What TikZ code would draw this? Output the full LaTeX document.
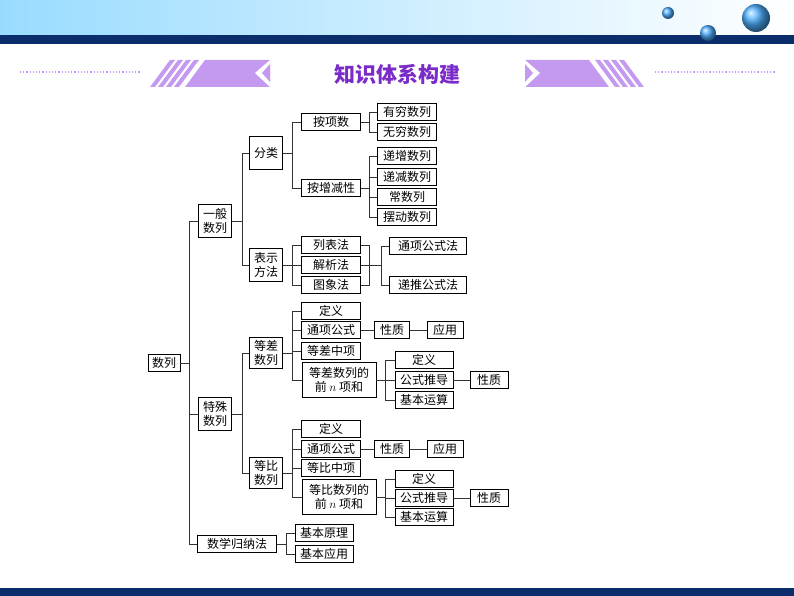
\documentclass[tikz,border=0pt]{standalone}
\usepackage{fontspec}
\newfontfamily\cjk{Noto Sans CJK SC}
\usetikzlibrary{calc}
\definecolor{navy}{HTML}{0B2D6B}
\definecolor{lpur}{HTML}{C49AF0}
\definecolor{tpur}{HTML}{7B2CC8}
\tikzset{
 b/.style={draw,line width=0.7pt,minimum height=17pt,inner sep=1pt,align=center,font=\cjk\fontsize{12}{13.5}\selectfont},
 c/.style={line width=0.7pt,draw=black!80}
}
\begin{document}
\begin{tikzpicture}[x=1pt,y=-1pt]
\useasboundingbox (0,0) rectangle (794,596);
% header
\shade[left color=blue!35!cyan!40,right color=white] (0,0) rectangle (794,35);
\fill[navy] (0,35) rectangle (794,44);
\shade[ball color=blue!45!cyan!70] (668,13) circle (6);
\shade[ball color=blue!45!cyan!70] (708,33) circle (8);
\shade[ball color=blue!45!cyan!70] (756,18) circle (14);
\fill[navy] (0,588) rectangle (794,596);
% title decorations
\draw[lpur,line width=1.2pt,dotted] (20,72) -- (140,72);
\draw[lpur,line width=1.2pt,dotted] (655,72) -- (775,72);
\foreach \i in {0,8,16,24}{\fill[lpur] (150+\i,87) -- (155+\i,87) -- (175+\i,60) -- (170+\i,60) -- cycle;}
\fill[lpur] (185,87) -- (205,60) -- (270,60) -- (270,87) -- cycle;
\fill[white] (270,60) -- (255,73) -- (270,87) -- cycle;
\fill[lpur] (262,73) -- (270,64) -- (270,82) -- cycle;
\foreach \i in {0,8,16,24}{\fill[lpur] (644-\i,87) -- (639-\i,87) -- (619-\i,60) -- (624-\i,60) -- cycle;}
\fill[lpur] (609,87) -- (589,60) -- (525,60) -- (525,87) -- cycle;
\fill[white] (525,60) -- (540,73) -- (525,87) -- cycle;
\fill[lpur] (533,73) -- (525,64) -- (525,82) -- cycle;
\node[font=\cjk\bfseries\fontsize{21}{22}\selectfont,text=tpur] (title) at (397,74) {知识体系构建};
% nodes
\node[b,minimum width=32] (sl) at (164,363) {数列};
\node[b,minimum width=33,minimum height=33] (yb) at (215,221) {一般\\数列};
\node[b,minimum width=33,minimum height=33] (fl) at (266,153) {分类};
\node[b,minimum width=33,minimum height=33] (bs) at (266,265) {表示\\方法};
\node[b,minimum width=59] (axs) at (331,122) {按项数};
\node[b,minimum width=59] (azj) at (331,188) {按增减性};
\node[b,minimum width=59] (yq) at (407,112) {有穷数列};
\node[b,minimum width=59] (wq) at (407,132) {无穷数列};
\node[b,minimum width=59] (dz) at (407,156) {递增数列};
\node[b,minimum width=59] (dj) at (407,177) {递减数列};
\node[b,minimum width=59] (cs) at (407,197) {常数列};
\node[b,minimum width=59] (bd) at (407,217) {摆动数列};
\node[b,minimum width=59] (lb) at (331,245) {列表法};
\node[b,minimum width=59] (jx) at (331,265) {解析法};
\node[b,minimum width=59] (tx) at (331,285) {图象法};
\node[b,minimum width=77] (tg) at (428,246) {通项公式法};
\node[b,minimum width=77] (dt) at (428,285) {递推公式法};
\node[b,minimum width=33,minimum height=33] (ts) at (215,414) {特殊\\数列};
\node[b,minimum width=33,minimum height=31] (dc) at (266,353) {等差\\数列};
\node[b,minimum width=33,minimum height=31] (db) at (266,473) {等比\\数列};
\node[b,minimum width=59] (dc1) at (331,311) {定义};
\node[b,minimum width=59] (dc2) at (331,330) {通项公式};
\node[b,minimum width=35] (dc2a) at (392,330) {性质};
\node[b,minimum width=36] (dc2b) at (445,330) {应用};
\node[b,minimum width=59] (dc3) at (331,351) {等差中项};
\node[b,minimum width=74,minimum height=35] (dc4) at (339,380) {等差数列的\\前 $n$ 项和};
\node[b,minimum width=58] (dc4a) at (424,360) {定义};
\node[b,minimum width=58] (dc4b) at (424,380) {公式推导};
\node[b,minimum width=38] (dc4c) at (489,380) {性质};
\node[b,minimum width=58] (dc4d) at (424,400) {基本运算};
\node[b,minimum width=59] (db1) at (331,429) {定义};
\node[b,minimum width=59] (db2) at (331,449) {通项公式};
\node[b,minimum width=35] (db2a) at (392,449) {性质};
\node[b,minimum width=36] (db2b) at (445,449) {应用};
\node[b,minimum width=59] (db3) at (331,468) {等比中项};
\node[b,minimum width=74,minimum height=35] (db4) at (339,497) {等比数列的\\前 $n$ 项和};
\node[b,minimum width=58] (db4a) at (424,479) {定义};
\node[b,minimum width=58] (db4b) at (424,498) {公式推导};
\node[b,minimum width=38] (db4c) at (489,498) {性质};
\node[b,minimum width=58] (db4d) at (424,517) {基本运算};
\node[b,minimum width=79] (gn) at (237,544) {数学归纳法};
\node[b,minimum width=58] (gn1) at (324,533) {基本原理};
\node[b,minimum width=58] (gn2) at (324,554) {基本应用};
% connectors
\draw[c] (sl.east) -- ++(9,0);
\foreach \n in {yb,ts,gn} \draw[c] (\n.west) -| ([xshift=9]sl.east);
\draw[c] (yb.east) -- ++(10,0);
\foreach \n in {fl,bs} \draw[c] (\n.west) -| ([xshift=10]yb.east);
\draw[c] (fl.east) -- ++(9,0);
\foreach \n in {axs,azj} \draw[c] (\n.west) -| ([xshift=9]fl.east);
\draw[c] (axs.east) -- ++(8,0);
\foreach \n in {yq,wq} \draw[c] (\n.west) -| ([xshift=8]axs.east);
\draw[c] (azj.east) -- ++(8,0);
\foreach \n in {dz,dj,cs,bd} \draw[c] (\n.west) -| ([xshift=8]azj.east);
\draw[c] (bs.east) -- ++(9,0);
\foreach \n in {lb,jx,tx} \draw[c] (\n.west) -| ([xshift=9]bs.east);
\foreach \n in {lb,tx} \draw[c] (\n.east) -| ([xshift=8]jx.east);
\draw[c] (jx.east) -- ++(20,0) coordinate (jxb);
\foreach \n in {tg,dt} \draw[c] (\n.west) -| (jxb);
\draw[c] (ts.east) -- ++(10,0);
\foreach \n in {dc,db} \draw[c] (\n.west) -| ([xshift=10]ts.east);
\draw[c] (dc.east) -- ++(9,0);
\foreach \n in {dc1,dc2,dc3,dc4} \draw[c] (\n.west) -| ([xshift=9]dc.east);
\draw[c] (dc2) -- (dc2a); \draw[c] (dc2a) -- (dc2b);
\draw[c] (dc4.east) -- ++(9,0);
\foreach \n in {dc4a,dc4b,dc4d} \draw[c] (\n.west) -| ([xshift=9]dc4.east);
\draw[c] (dc4b) -- (dc4c);
\draw[c] (db.east) -- ++(9,0);
\foreach \n in {db1,db2,db3,db4} \draw[c] (\n.west) -| ([xshift=9]db.east);
\draw[c] (db2) -- (db2a); \draw[c] (db2a) -- (db2b);
\draw[c] (db4.east) -- ++(9,0);
\foreach \n in {db4a,db4b,db4d} \draw[c] (\n.west) -| ([xshift=9]db4.east);
\draw[c] (db4b) -- (db4c);
\draw[c] (gn.east) -- ++(9,0);
\foreach \n in {gn1,gn2} \draw[c] (\n.west) -| ([xshift=9]gn.east);
\end{tikzpicture}
\end{document}
